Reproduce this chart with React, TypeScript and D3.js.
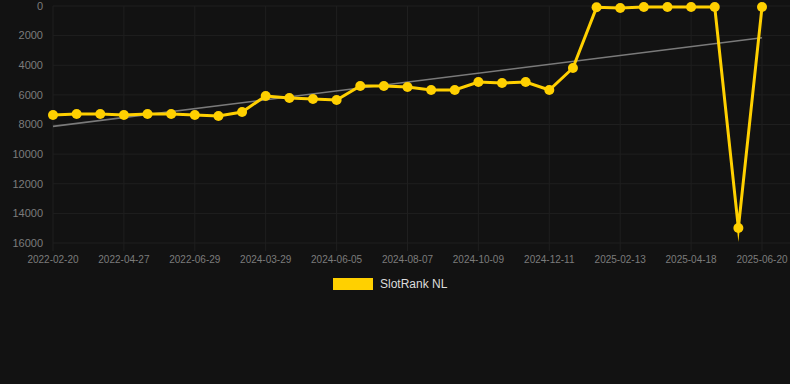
import React from "react";
import * as d3 from "d3";

const dates = [
  "2022-02-20","2022-03-13","2022-04-06","2022-04-27","2022-05-18","2022-06-08",
  "2022-06-29","2022-07-20","2024-03-08","2024-03-29","2024-04-19","2024-05-15",
  "2024-06-05","2024-06-26","2024-07-17","2024-08-07","2024-08-28","2024-09-18",
  "2024-10-09","2024-10-30","2024-11-20","2024-12-11","2025-01-01","2025-01-23",
  "2025-02-13","2025-03-06","2025-03-27","2025-04-18","2025-05-09","2025-05-30","2025-06-20"
];
const ranks = [
  7360, 7290, 7290, 7360, 7290, 7290, 7360, 7425, 7155, 6075, 6210, 6280,
  6345, 5400, 5400, 5470, 5670, 5670, 5130, 5200, 5130, 5670, 4185, 90,
  130, 70, 70, 70, 70, 14985, 70
];
const yTicks = [0, 2000, 4000, 6000, 8000, 10000, 12000, 14000, 16000];
const seriesName = "SlotRank NL";

const W = 790, H = 384;
const left = 53, right = 762, top = 6, bottom = 243;
const font = "Liberation Sans, Arial, Helvetica, sans-serif";

export default function App() {
  const x = d3.scalePoint<number>().domain(d3.range(dates.length)).range([left, right]);
  const y = d3.scaleLinear().domain([0, 16000]).range([top, bottom]);

  // linear regression trend
  const n = ranks.length;
  const mx = d3.mean(d3.range(n))!;
  const my = d3.mean(ranks)!;
  let sxy = 0, sxx = 0;
  ranks.forEach((v, i) => { sxy += (i - mx) * (v - my); sxx += (i - mx) * (i - mx); });
  const slope = sxy / sxx;
  const icpt = my - slope * mx;

  const line = d3.line<number>().x((_, i) => x(i)!).y((d) => y(d));
  const vLines = d3.range(0, n, 3);

  return (
    <svg width={W} height={H} style={{ position: "absolute", left: 0, top: 0, background: "#121212" }}>
      <rect x={0} y={0} width={W} height={H} fill="#121212" />
      {yTicks.map((t) => (
        <g key={t}>
          <line x1={left} x2={W} y1={y(t)} y2={y(t)} stroke="#1f1f1f" strokeWidth={1} />
          <text x={43} y={y(t)} dy="0.35em" textAnchor="end" fill="#7c7c7c" fontSize={11} fontFamily={font}>{t}</text>
        </g>
      ))}
      {vLines.map((i) => (
        <g key={i}>
          <line x1={x(i)} x2={x(i)} y1={top} y2={bottom + 8} stroke="#1f1f1f" strokeWidth={1} />
          <text x={x(i)} y={259} dy="0.35em" textAnchor="middle" fill="#7c7c7c" fontSize={10} fontFamily={font}>{dates[i]}</text>
        </g>
      ))}
      <line x1={x(0)} x2={x(n - 1)} y1={y(icpt)} y2={y(icpt + slope * (n - 1))} stroke="#7a7a7a" strokeWidth={1.6} />
      <path d={line(ranks)!} fill="none" stroke="#FFD000" strokeWidth={3} strokeLinejoin="miter" strokeMiterlimit={10} />
      {ranks.map((v, i) => (
        <circle key={i} cx={x(i)} cy={y(v)} r={5} fill="#FFD000" />
      ))}
      <rect x={333} y={278} width={40} height={12} fill="#FFD000" />
      <text x={380} y={284} dy="0.35em" fill="#dcdcdc" fontSize={12} fontFamily={font}>{seriesName}</text>
    </svg>
  );
}
